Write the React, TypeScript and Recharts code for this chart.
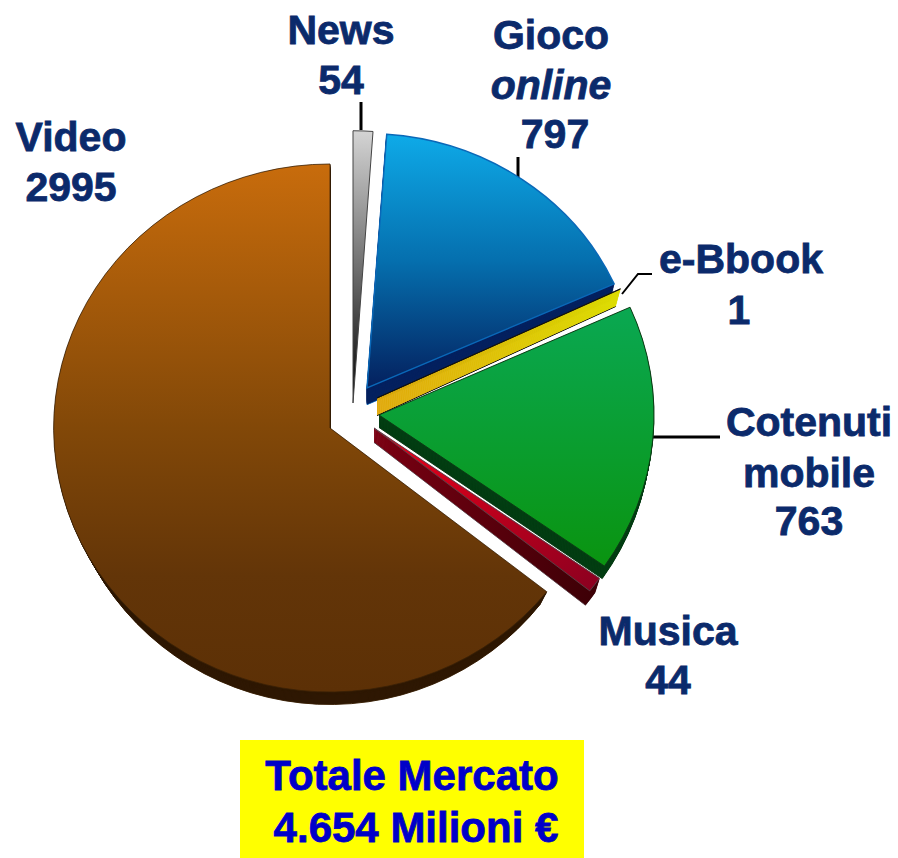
import { PieChart, Pie, Sector } from 'recharts';

const names = ['News', 'Gioco', 'e-Bbook', 'Contenuti', 'Musica', 'Video'];
const values = [54, 797, 1, 763, 44, 2995];
const pieData = names.map((name, i) => ({ name, value: values[i] }));

interface SliceStyle {
  dx: number;
  dy: number;
  sx: number;
  sy: number;
  depth: number;
  taper: number;
  fill: string;
  wall: string;
  edge: string;
  edgeWidth: number;
}

const sliceStyles: Record<string, SliceStyle> = {
  News: { dx: 23, dy: -22, sx: 1, sy: 0.99, depth: 0, taper: 0, fill: 'url(#newsFill)', wall: '#000', edge: '#444', edgeWidth: 1 },
  Gioco: { dx: 37, dy: -37, sx: 0.985, sy: 0.925, depth: 18, taper: 0.015, fill: 'url(#blueFill)', wall: '#04215f', edge: '#0a68b8', edgeWidth: 1.5 },
  'e-Bbook': { dx: 47, dy: -27, sx: 0.97, sy: 0.97, depth: 18, taper: 0.02, fill: 'url(#yellowFill)', wall: 'url(#yellowFill)', edge: '#111', edgeWidth: 1 },
  Contenuti: { dx: 49, dy: -10, sx: 1, sy: 0.96, depth: 13, taper: 0.01, fill: 'url(#greenFill)', wall: '#033d12', edge: '#0c3a14', edgeWidth: 1 },
  Musica: { dx: 44, dy: 3, sx: 1, sy: 0.955, depth: 15, taper: 0.02, fill: 'url(#redFill)', wall: 'url(#redWall)', edge: '#5a4048', edgeWidth: 1 },
  Video: { dx: 0, dy: 3, sx: 1.005, sy: 0.96, depth: 13, taper: 0.03, fill: 'url(#brownFill)', wall: '#2e1803', edge: '#3a2005', edgeWidth: 0.8 },
};

const labels = [
  { x: 71, lines: [{ t: 'Video', y: 151 }, { t: '2995', y: 201 }] },
  { x: 341, lines: [{ t: 'News', y: 44 }, { t: '54', y: 94 }] },
  { x: 551, lines: [{ t: 'Gioco', y: 49 }, { t: 'online', y: 99, italic: true }, { t: '797', y: 148, dx: 4 }] },
  { x: 741, lines: [{ t: 'e-Bbook', y: 273 }, { t: '1', y: 324, dx: -2 }] },
  { x: 809, lines: [{ t: 'Cotenuti', y: 436 }, { t: 'mobile', y: 487 }, { t: '763', y: 535 }] },
  { x: 668, lines: [{ t: 'Musica', y: 645 }, { t: '44', y: 694 }] },
];

const leaders = [
  { d: 'M361 102V130', w: 3 },
  { d: 'M518 157V180', w: 3 },
  { d: 'M622 294L638 274H652', w: 2 },
  { d: 'M653 437H720', w: 3 },
];

function SliceShape(props: any) {
  const style = sliceStyles[props.name];
  const { cx, cy, outerRadius, startAngle, endAngle } = props;
  const walls = [];
  for (let i = style.depth; i >= 1; i--) {
    // the side wall narrows a little as it goes down
    const k = 1 - (style.taper * i) / style.depth;
    const stroke = i === style.depth ? style.edge : style.wall;
    walls.push(
      <g key={i} transform={`translate(${cx} ${i}) scale(${k} 1) translate(${-cx} 0)`}>
        <Sector cx={cx} cy={cy} innerRadius={0} outerRadius={outerRadius} startAngle={startAngle} endAngle={endAngle} fill={style.wall} stroke={stroke} strokeWidth={1} />
      </g>
    );
  }
  const tf = `translate(${cx + style.dx} ${cy + style.dy}) scale(${style.sx} ${style.sy}) translate(${-cx} ${-cy})`;
  return (
    <g transform={tf}>
      {walls}
      <Sector cx={cx} cy={cy} innerRadius={0} outerRadius={outerRadius} startAngle={startAngle} endAngle={endAngle} fill={style.fill} stroke={style.edge} strokeWidth={style.edgeWidth} />
    </g>
  );
}

export default function App() {
  return (
    <div style={{ position: 'absolute', left: 0, top: 0, width: 898, height: 858, background: '#fff' }}>
      <PieChart width={898} height={858} margin={{ top: 0, right: 0, bottom: 0, left: 0 }}>
        <defs>
          <linearGradient id="brownFill" x1="0" y1="0" x2="0" y2="1">
            <stop offset="0" stopColor="#c86c0c" />
            <stop offset="0.5" stopColor="#824808" />
            <stop offset="0.78" stopColor="#633508" />
            <stop offset="1" stopColor="#5c3006" />
          </linearGradient>
          <linearGradient id="blueFill" x1="0" y1="0" x2="0" y2="1">
            <stop offset="0" stopColor="#0eaae8" />
            <stop offset="0.5" stopColor="#056fae" />
            <stop offset="1" stopColor="#04205e" />
          </linearGradient>
          <linearGradient id="greenFill" x1="0" y1="0" x2="0" y2="1">
            <stop offset="0" stopColor="#0aa852" />
            <stop offset="1" stopColor="#0a9410" />
          </linearGradient>
          <linearGradient id="redFill" x1="0" y1="0" x2="1" y2="1">
            <stop offset="0" stopColor="#f00018" />
            <stop offset="1" stopColor="#8a0020" />
          </linearGradient>
          <linearGradient id="redWall" x1="0" y1="0" x2="1" y2="0">
            <stop offset="0" stopColor="#7a0012" />
            <stop offset="1" stopColor="#3c0006" />
          </linearGradient>
          <linearGradient id="yellowFill" x1="0" y1="0" x2="1" y2="0">
            <stop offset="0" stopColor="#e0a808" />
            <stop offset="1" stopColor="#dcdc00" />
          </linearGradient>
          <linearGradient id="newsFill" x1="0" y1="0" x2="0" y2="1">
            <stop offset="0" stopColor="#d4d4d4" />
            <stop offset="0.5" stopColor="#707070" />
            <stop offset="1" stopColor="#000" />
          </linearGradient>
        </defs>
        <Pie
          data={pieData}
          dataKey="value"
          nameKey="name"
          cx={330}
          cy={425}
          innerRadius={0}
          outerRadius={275}
          startAngle={90}
          endAngle={-270}
          paddingAngle={0}
          stroke="none"
          label={false}
          labelLine={false}
          shape={SliceShape}
          isAnimationActive={false}
        />
        {leaders.map((l) => (
          <path key={l.d} d={l.d} fill="none" stroke="#000" strokeWidth={l.w} />
        ))}
        {labels.map((l) =>
          l.lines.map((line: any) => (
            <text
              key={line.t}
              x={l.x + (line.dx || 0)}
              y={line.y}
              textAnchor="middle"
              fontFamily="Liberation Sans"
              fontWeight="bold"
              fontStyle={line.italic ? 'italic' : 'normal'}
              fontSize={41}
              fill="#0b2a6b"
              stroke="#0b2a6b"
              strokeWidth={0.8}
            >
              {line.t}
            </text>
          ))
        )}
        <rect x={240} y={740} width={344} height={118} fill="#ffff00" />
        <text x={412} y={790} textAnchor="middle" fontFamily="Liberation Sans" fontWeight="bold" fontSize={42} fill="#0000c8" stroke="#0000c8" strokeWidth={0.8}>Totale Mercato</text>
        <text x={416} y={842} textAnchor="middle" fontFamily="Liberation Sans" fontWeight="bold" fontSize={42} fill="#0000c8" stroke="#0000c8" strokeWidth={0.8}>4.654 Milioni €</text>
      </PieChart>
    </div>
  );
}
